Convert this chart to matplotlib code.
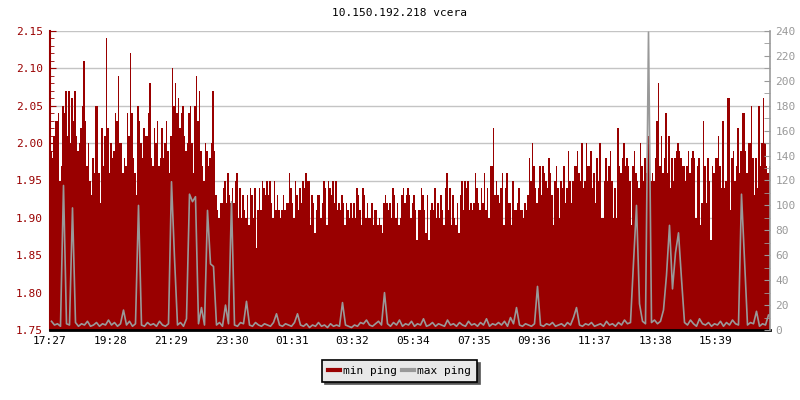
import numpy as np
import matplotlib.pyplot as plt
from matplotlib.lines import Line2D
from matplotlib.ticker import MultipleLocator

plt.rcParams['font.family'] = ['DejaVu Sans Mono']
plt.rcParams['font.size'] = 8

title = "10.150.192.218 vcera"
start = "17:27"
span_min = 1440
tick_labels = ["17:27", "19:28", "21:29", "23:30", "01:31", "03:32",
               "05:34", "07:35", "09:36", "11:37", "13:38", "15:39"]

# min ping, in 0.01 ms (left axis), one sample every 3 min
min_ping_cs = [
    199, 198, 201, 203, 203, 204, 195, 197, 205, 204, 207, 201, 207, 200, 206, 203,
    207, 201, 199, 200, 202, 205, 211, 203, 197, 200, 195, 193, 198, 196, 205, 205,
    196, 192, 202, 197, 201, 214, 202, 196, 200, 198, 199, 204, 203, 209, 200, 200,
    196, 198, 197, 204, 201, 212, 204, 198, 196, 193, 205, 203, 200, 198, 202, 201,
    201, 204, 208, 198, 197, 202, 200, 203, 197, 198, 202, 198, 200, 203, 199, 196,
    201, 210, 205, 208, 204, 206, 202, 204, 205, 201, 199, 200, 204, 205, 200, 196,
    205, 209, 203, 207, 199, 197, 195, 200, 199, 197, 198, 200, 207, 199,
    193, 191, 190, 192, 192, 194, 195, 192, 196, 193,
    # night
    192, 194, 192, 195, 196, 190, 194, 190, 193, 191, 190, 193, 189, 194, 193, 190, 194,
    186, 191, 194, 191, 195, 194, 193, 195, 193, 195, 192, 190, 195, 191, 193, 191, 190,
    191, 193, 191, 192, 192, 196, 194, 192, 190, 195, 193, 191, 194, 192, 195, 194, 196,
    195, 195, 189, 193, 192, 188, 191, 193, 193, 190, 192, 195, 194, 189, 195, 194, 193,
    195, 192, 195, 191, 192, 191, 193, 192, 189, 192, 191, 190, 192, 190, 192, 190, 194,
    193, 191, 189, 194, 193, 190, 192, 190, 190, 192, 189, 191, 191, 189, 190, 189, 188,
    192, 193, 192, 191, 192, 190, 194, 193, 190, 192, 189, 190, 193, 194, 192, 193, 194,
    193,
    # morning
    190, 192, 193, 191, 187, 191, 191, 194, 193, 191, 188, 193, 187, 191,
    192, 191, 194, 190, 192, 190, 193, 191, 189, 194, 196, 191, 194, 189,
    193, 190, 189, 192, 188, 193, 195, 191, 195, 194, 195, 191, 192, 191,
    192, 196, 194, 192, 191, 194, 192, 196, 191, 194, 190, 197, 197, 202,
    193, 195, 193, 192, 194, 196, 189, 194, 196, 192, 192, 189, 195, 191,
    191, 192, 194, 191, 191, 190, 192, 191, 193, 198, 195, 200, 197, 194, 192, 194,
    197, 193, 197, 196, 195, 194, 198, 196, 193, 189, 195, 197, 194, 190, 195, 194,
    197, 192, 194, 199, 195, 192, 195, 197, 197, 199, 196, 195, 200, 194, 195, 200,
    197, 197,
    # afternoon
    199, 194, 196, 192, 198, 195, 200, 190, 190, 195, 198, 195, 197, 199, 195, 190,
    194, 190, 202, 197, 196, 198, 200, 197, 198, 197, 195, 189, 197, 199, 196, 195,
    194, 200, 197, 195, 198, 196, 201, 199, 195, 196, 195, 198, 203, 208, 197, 201,
    196, 198, 204, 196, 201, 194, 198, 195, 198, 199, 200, 199, 198, 197, 197, 195,
    197, 199, 196, 198, 199, 198, 190, 197, 198, 189, 192, 203, 197, 192, 198, 195,
    187, 197, 196, 198, 198, 201, 197, 194, 203, 194, 195, 206, 206, 191, 198, 199,
    195, 197, 202, 196, 199, 204, 204, 199, 196, 200, 200, 205, 198, 193, 198, 194,
    205, 197, 200, 206, 200, 197, 196, 197,
]

# max ping in ms (right axis), one sample every 6 min
max_ping = [
    7, 4, 5, 3, 116, 5, 4, 98, 6, 3,
    5, 4, 7, 3, 4, 6, 3, 5, 4, 8,
    4, 6, 3, 5, 16, 4, 7, 3, 5, 100,
    4, 3, 6, 4, 5, 3, 7, 4, 3, 5,
    119, 58, 4, 6, 3, 9, 109, 103, 107, 5,
    18, 4, 96, 53, 51, 4, 6, 3, 20, 5,
    103, 4, 3, 6, 5, 23, 4, 3, 6, 4,
    3, 5, 4, 3, 6, 13, 4, 3, 5, 4,
    3, 6, 13, 4, 3, 5, 2, 4, 3, 6,
    3, 4, 2, 5, 3, 4, 3, 22, 4, 3,
    2, 4, 3, 6, 5, 8, 4, 3, 5, 7,
    4, 30, 5, 3, 6, 4, 8, 3, 5, 4,
    7, 3, 5, 4, 9, 3, 4, 6, 3, 5,
    4, 3, 8, 4, 5, 3, 6, 4, 3, 7,
    4, 5, 3, 6, 4, 9, 3, 5, 4, 6,
    4, 7, 3, 10, 5, 18, 4, 3, 5, 4,
    3, 5, 35, 4, 3, 5, 4, 6, 3, 4,
    5, 3, 6, 4, 10, 18, 4, 3, 5, 4,
    6, 3, 4, 5, 3, 7, 4, 5, 3, 6,
    4, 8, 5, 6, 54, 100, 21, 7, 5, 239,
    6, 8, 5, 7, 16, 44, 84, 33, 62, 78,
    41, 6, 4, 8, 5, 3, 9, 5, 4, 6,
    3, 5, 4, 7, 3, 6, 4, 8, 5, 4,
    109, 57, 4, 6, 5, 15, 3, 5, 4, 12,
]

min_ping = np.array(min_ping_cs) / 100.0
edges_min = np.linspace(0, span_min, len(min_ping) + 1)
edges_max = np.linspace(0, span_min, len(max_ping) + 1)
x_max = (edges_max[:-1] + edges_max[1:]) / 2


def minutes_from_start(s):
    h, m = map(int, s.split(":"))
    h0, m0 = map(int, start.split(":"))
    return (h * 60 + m - h0 * 60 - m0) % 1440


red = '#990000'
gray = '#999999'

fig = plt.figure(figsize=(8, 4), dpi=100)
ax = fig.add_axes([0.0625, 0.175, 0.9, 0.7475])
ax.stairs(min_ping, edges_min, baseline=1.75, fill=True, color=red, lw=0)
ax.set_xlim(0, span_min)
ax.set_ylim(1.75, 2.15)
ax.set_yticks(np.arange(1.75, 2.151, 0.05))
ax.yaxis.set_minor_locator(MultipleLocator(0.01))
ax.yaxis.set_major_formatter('{x:.2f}')
ax.grid(axis='y', color='#c4c4c4', lw=1)
ax.set_axisbelow(True)
ax.set_xticks([minutes_from_start(t) for t in tick_labels])
ax.set_xticklabels(tick_labels)
ax.tick_params(axis='x', direction='in', length=4, width=1.2, colors='black', pad=4)
ax.tick_params(axis='y', which='both', direction='in', length=3, color=red,
               labelcolor=red, pad=5)
ax.tick_params(axis='y', which='major', length=4)

ax2 = ax.twinx()
ax2.plot(x_max, max_ping, color=gray, lw=1.2)
ax2.set_xlim(0, span_min)
ax2.set_ylim(0, 240)
ax2.set_yticks(np.arange(0, 241, 20))
ax2.yaxis.set_minor_locator(MultipleLocator(10))
ax2.tick_params(axis='y', which='both', direction='in', length=4, color=gray,
                labelcolor=gray, pad=4)

for a in (ax, ax2):
    a.spines['top'].set_visible(False)
ax.spines['right'].set_visible(False)
ax2.spines['left'].set_visible(False)
ax2.spines['bottom'].set_visible(False)
ax.spines['left'].set_color(red)
ax.spines['left'].set_linewidth(1.5)
ax2.spines['right'].set_color(gray)
ax2.spines['right'].set_linewidth(1.2)
ax.spines['bottom'].set_color('black')
ax.spines['bottom'].set_linewidth(2)

fig.text(0.5, 1 - 13 / 400, title, ha='center', va='center', fontsize=8)

handles = [Line2D([], [], color=red, lw=3), Line2D([], [], color=gray, lw=3)]
leg = fig.legend(handles, ['min ping', 'max ping'], loc='center',
                 bbox_to_anchor=(0.4994, 1 - 371 / 400), ncol=2,
                 fancybox=False, shadow={'color': '#555555', 'alpha': 1},
                 facecolor='#e8e8e8', edgecolor='black', framealpha=1,
                 handlelength=1.1, handletextpad=0.3, columnspacing=0.4,
                 borderpad=0.5, fontsize=8)
leg.get_frame().set_linewidth(1.2)

fig.savefig('out.png', dpi=100)
